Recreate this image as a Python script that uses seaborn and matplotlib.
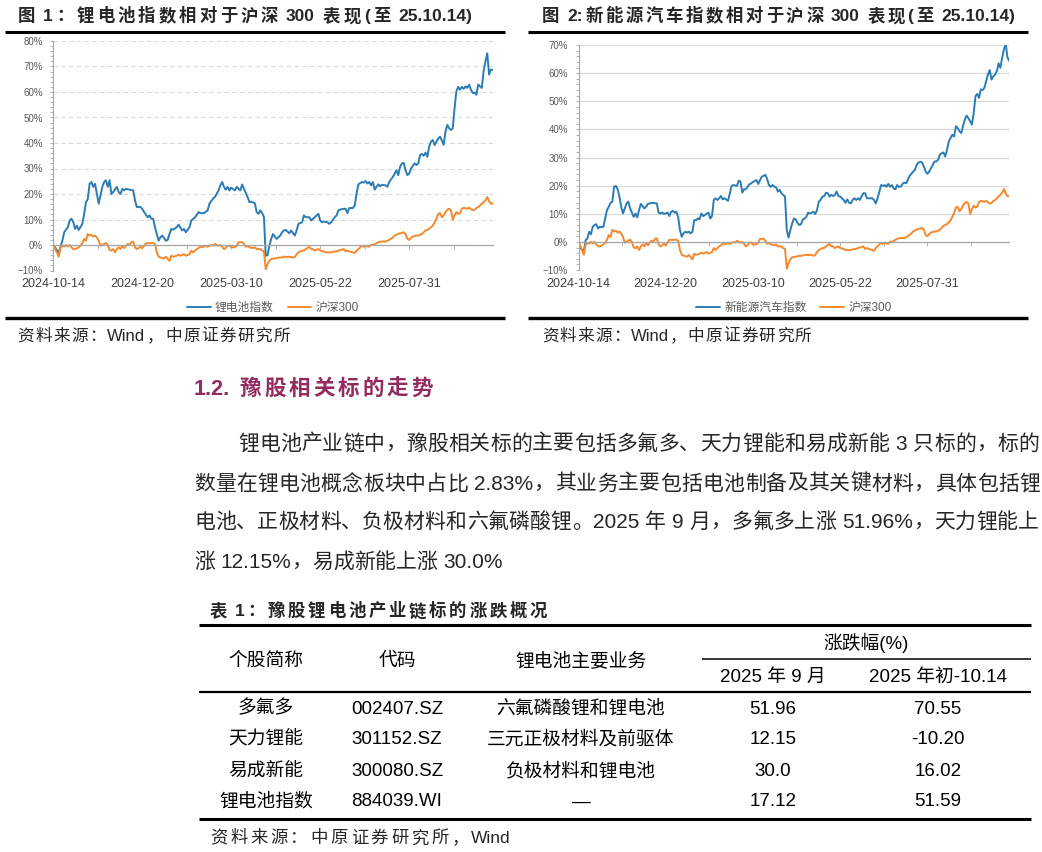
import re
import numpy as np
import matplotlib
matplotlib.use('Agg')
import matplotlib.pyplot as plt
from matplotlib.lines import Line2D
from matplotlib.ticker import MultipleLocator, FuncFormatter
import seaborn as sns

# ---- data (trading-day index since 2024-10-14, relative return in %) ----
date_labels = ['2024-10-14', '2024-12-20', '2025-03-10', '2025-05-22', '2025-07-31']
label_days = [0, 49, 98, 147, 196]

li_day = [0, 2, 3, 5, 6, 8, 9, 10, 11, 12, 13, 14, 16, 17, 18, 19, 20, 21, 22, 23, 24, 25, 27, 28, 29, 30,
          31, 32, 33, 35, 36, 37, 38, 39, 40, 42, 44, 45, 46, 48, 49, 50, 52, 53, 54, 55, 56, 57, 58, 59,
          60, 62, 63, 64, 65, 66, 68, 69, 71, 72, 73, 75, 76, 78, 80, 81, 83, 85, 86, 88, 89, 90, 91, 92,
          93, 94, 95, 96, 97, 98, 100, 101, 103, 104, 105, 107, 108, 109, 111, 112, 113, 114, 115, 116,
          117, 118, 119, 120, 121, 122, 123, 125, 126, 127, 128, 130, 131, 133, 134, 135, 137, 138, 139,
          141, 142, 143, 144, 146, 147, 148, 149, 151, 152, 153, 155, 156, 157, 158, 160, 161, 162, 163,
          165, 166, 167, 168, 170, 171, 172, 173, 174, 175, 176, 177, 178, 179, 180, 181, 183, 184, 185,
          187, 188, 189, 190, 191, 192, 193, 194, 195, 196, 197, 199, 200, 201, 202, 203, 204, 205, 206,
          207, 208, 209, 210, 212, 213, 214, 215, 216, 217, 218, 219, 220, 221, 222, 223, 224, 225, 226,
          227, 228, 229, 230, 231, 232, 233, 234, 235, 236, 237, 238, 239, 240, 241, 242]
li_pct = [0, -2.0, -3.0, 1.7, 5.0, 7.0, 9.6, 10.3, 9.0, 6.3, 7.6, 5.9, 8.3, 12.2, 16.8, 18.0, 24.0, 24.7,
          22.8, 24.0, 20.0, 16.2, 22.8, 24.7, 25.4, 22.8, 25.4, 20.0, 20.8, 22.8, 20.8, 20.0, 22.0, 21.4,
          22.0, 21.7, 21.4, 17.5, 14.9, 14.9, 14.2, 12.9, 10.9, 11.6, 10.3, 10.3, 7.0, 4.3, 1.7, 3.0,
          3.7, 1.7, 2.0, 4.3, 6.3, 6.0, 7.0, 8.0, 5.7, 6.3, 5.0, 7.0, 9.6, 10.8, 12.9, 12.5, 12.5, 13.6,
          16.2, 18.2, 18.8, 20.1, 21.4, 23.4, 24.7, 22.8, 21.7, 22.8, 21.4, 22.5, 21.4, 22.8, 21.4, 23.7,
          22.1, 18.8, 16.8, 17.0, 16.4, 12.9, 12.2, 13.6, 12.5, 11.0, -4.2, -4.0, -0.3, 2.4, 4.3, 3.3,
          2.4, 3.7, 5.0, 5.7, 5.9, 4.6, 5.7, 3.7, 5.7, 8.3, 8.9, 11.6, 10.9, 10.9, 9.6, 10.3, 10.9, 12.2,
          9.6, 8.9, 9.2, 8.9, 8.3, 8.9, 10.9, 11.6, 13.6, 13.9, 14.2, 14.2, 12.5, 14.5, 14.5, 15.5, 20.1,
          23.8, 24.7, 24.5, 25.1, 24.1, 24.7, 23.4, 24.7, 21.7, 22.8, 23.8, 23.0, 23.6, 23.4, 22.8, 24.7,
          26.7, 28.0, 29.3, 27.4, 30.7, 32.0, 32.2, 29.3, 27.4, 28.0, 30.0, 32.0, 31.4, 32.0, 35.3, 35.7,
          35.0, 36.2, 34.6, 38.6, 40.5, 41.2, 39.2, 41.8, 42.5, 41.0, 39.3, 44.5, 47.1, 45.8, 45.1, 45.8,
          53.7, 60.3, 62.0, 60.9, 62.0, 61.2, 62.2, 61.6, 62.9, 60.9, 59.6, 59.8, 58.9, 62.9, 62.2, 61.6,
          68.2, 72.0, 75.2, 66.8, 68.8, 68.6]

hs_day = [0, 1, 2, 3, 4, 5, 6, 7, 8, 9, 10, 11, 12, 14, 15, 16, 17, 18, 19, 20, 21, 22, 23, 24, 25, 26,
          27, 28, 29, 30, 31, 32, 33, 34, 35, 36, 37, 38, 39, 40, 41, 42, 43, 44, 45, 46, 47, 48, 49, 50,
          51, 53, 55, 56, 57, 58, 59, 61, 62, 63, 64, 65, 66, 68, 69, 70, 72, 73, 75, 76, 77, 79, 80, 81,
          82, 84, 85, 87, 88, 89, 91, 92, 93, 94, 95, 96, 97, 98, 100, 101, 102, 104, 105, 106, 107, 108,
          110, 111, 112, 114, 115, 116, 117, 118, 119, 120, 122, 123, 125, 126, 127, 129, 130, 132, 133,
          134, 135, 137, 138, 139, 141, 142, 143, 144, 146, 147, 149, 150, 151, 153, 155, 156, 157, 158,
          160, 161, 162, 163, 165, 166, 167, 168, 170, 171, 172, 174, 175, 176, 178, 179, 180, 182, 183,
          184, 186, 187, 188, 189, 191, 192, 193, 194, 195, 196, 197, 198, 200, 201, 203, 204, 205, 207,
          208, 209, 210, 211, 212, 213, 214, 215, 216, 217, 218, 219, 220, 221, 222, 223, 224, 225, 226,
          228, 229, 231, 232, 233, 234, 235, 236, 237, 238, 239, 240, 241, 242]
hs_pct = [0, -1.6, -2.9, -4.6, -0.9, -0.3, -0.6, 0.0, -0.6, 0.0, -0.9, -1.6, -1.6, -0.9, -0.3, 0.7, 2.4,
          1.7, 4.3, 3.7, 4.0, 3.3, 3.7, 3.0, 1.7, -0.3, 0.0, 0.4, 0.8, 0.0, -2.0, -2.2, -1.6, -2.9, -1.6,
          -0.9, -1.6, -0.3, -1.2, -0.3, 0.4, 0.0, 1.1, 1.3, -0.9, -1.6, -1.2, -0.7, -1.2, -0.3, 0.7, 0.7,
          0.8, 0.4, -2.9, -4.6, -4.9, -5.3, -4.6, -5.5, -6.2, -4.2, -4.6, -4.2, -3.8, -4.2, -3.6, -4.2,
          -3.6, -2.2, -2.9, -1.6, -1.2, -0.7, -0.9, -0.3, -0.7, 0.0, -0.3, 0.4, -0.3, 0.0, -0.7, -1.6,
          -1.2, -0.3, -0.3, -0.9, -0.9, -0.3, 1.1, 1.1, 0.4, -0.7, -0.3, -0.9, -1.2, -0.9, -1.6, -1.6,
          -2.2, -2.5, -9.5, -7.5, -6.2, -5.5, -5.3, -5.1, -4.9, -4.9, -4.6, -4.7, -4.6, -4.9, -4.7, -3.6,
          -2.9, -2.2, -2.2, -1.6, -0.7, -1.6, -1.6, -2.2, -1.6, -2.2, -2.5, -2.9, -2.9, -2.9, -2.5, -2.5,
          -2.2, -2.0, -1.6, -2.5, -2.2, -2.5, -2.9, -3.2, -2.2, -1.6, -0.3, -0.7, -0.3, -0.7, 0.1, 0.0,
          0.7, 1.1, 1.3, 1.4, 1.3, 1.7, 2.4, 3.0, 3.7, 4.1, 4.6, 4.7, 5.0, 4.3, 2.4, 2.0, 2.8, 3.3, 3.7,
          3.7, 4.3, 5.0, 5.7, 6.3, 7.0, 7.6, 8.9, 10.3, 12.2, 12.5, 10.9, 11.6, 12.9, 13.8, 14.2, 13.6,
          9.9, 11.6, 12.9, 12.2, 12.5, 14.2, 14.6, 14.2, 14.6, 13.6, 13.8, 14.5, 14.9, 15.5, 16.2, 16.8,
          17.5, 18.8, 17.2, 16.2, 16.3]

nev_day = [0, 1, 2, 3, 4, 5, 6, 7, 8, 9, 10, 11, 12, 13, 14, 15, 16, 17, 18, 19, 20, 21, 22, 23, 24, 25,
           26, 27, 28, 29, 30, 31, 32, 33, 34, 35, 36, 37, 38, 39, 40, 42, 43, 44, 45, 46, 47, 48, 50, 51,
           52, 53, 54, 55, 56, 57, 58, 59, 60, 61, 62, 63, 64, 65, 66, 67, 68, 69, 70, 71, 72, 73, 74, 75,
           76, 77, 78, 79, 80, 81, 82, 84, 85, 86, 87, 89, 90, 91, 92, 93, 94, 96, 97, 98, 100, 101, 102,
           103, 104, 105, 106, 107, 108, 109, 110, 111, 112, 113, 114, 115, 116, 117, 118, 119, 120, 121,
           122, 123, 124, 125, 126, 127, 128, 129, 130, 131, 132, 133, 134, 135, 136, 137, 138, 139, 140,
           141, 142, 143, 144, 145, 146, 147, 148, 149, 150, 151, 152, 153, 154, 155, 156, 157, 158, 159,
           160, 161, 162, 164, 165, 166, 167, 168, 169, 170, 171, 172, 173, 174, 175, 176, 177, 178, 179,
           180, 181, 182, 183, 184, 185, 186, 187, 188, 189, 190, 191, 192, 193, 194, 195, 196, 197, 198,
           199, 200, 201, 202, 203, 204, 205, 206, 207, 208, 209, 210, 211, 212, 213, 214, 215, 216, 217,
           218, 219, 220, 221, 222, 223, 224, 225, 226, 227, 228, 229, 230, 231, 232, 233, 234, 235, 236,
           237, 238, 239, 240, 241, 242]
nev_pct = [0, -1.8, -3.0, -3.5, 0.6, 1.2, 3.6, 2.7, 5.4, 6.0, 6.3, 4.8, 5.4, 5.2, 5.4, 8.3, 11.3, 12.5,
           13.9, 14.3, 19.6, 19.9, 18.7, 16.1, 12.5, 10.1, 11.9, 13.7, 14.3, 11.9, 10.4, 8.9, 10.1, 8.7,
           11.3, 13.5, 12.7, 11.9, 12.5, 13.5, 13.7, 13.9, 13.7, 13.7, 10.4, 10.1, 10.4, 9.9, 10.4, 9.2,
           10.7, 11.0, 10.4, 10.7, 8.7, 4.2, 1.8, 3.0, 3.6, 3.3, 3.6, 3.0, 3.6, 7.7, 7.7, 8.3, 8.0, 10.1,
           9.2, 9.5, 10.1, 10.4, 8.3, 9.2, 14.9, 15.5, 14.9, 15.5, 16.3, 15.1, 15.5, 14.6, 17.3, 19.9,
           20.2, 19.9, 21.8, 21.4, 17.5, 18.7, 18.7, 20.5, 20.8, 21.3, 22.0, 20.6, 22.0, 23.2, 23.5, 23.8,
           22.3, 20.2, 19.6, 20.2, 19.6, 19.4, 17.9, 18.5, 17.3, 16.7, 16.1, 4.2, 1.5, 4.2, 6.5, 8.3, 8.0,
           6.8, 6.0, 6.3, 8.0, 8.3, 8.9, 10.4, 10.1, 10.4, 10.7, 9.9, 11.3, 14.3, 14.9, 16.1, 16.3, 17.5,
           17.3, 16.1, 16.7, 16.3, 16.7, 17.9, 16.3, 16.1, 15.5, 14.9, 13.9, 15.1, 13.9, 13.7, 14.9, 15.5,
           14.9, 15.5, 14.9, 16.1, 17.3, 17.3, 15.5, 15.5, 15.5, 14.9, 13.7, 15.5, 17.9, 20.2, 19.9, 20.2,
           19.6, 20.6, 19.6, 20.2, 19.0, 18.7, 20.2, 19.6, 19.6, 20.6, 21.1, 20.8, 22.0, 23.5, 24.2, 25.0,
           25.6, 27.4, 28.2, 28.5, 28.2, 26.8, 25.0, 24.2, 25.0, 26.2, 27.4, 28.6, 28.6, 29.2, 31.0, 31.5,
           31.8, 30.4, 32.7, 35.7, 36.9, 38.1, 37.5, 41.1, 40.5, 39.3, 38.7, 41.1, 43.5, 44.9, 44.0, 42.9,
           41.7, 45.8, 51.8, 52.6, 51.2, 54.2, 54.0, 54.8, 57.1, 59.5, 61.1, 57.7, 58.9, 59.5, 60.7, 63.5,
           61.9, 65.5, 68.5, 70.2, 65.5, 64.3]

# table 1
stock_names = ['多氟多', '天力锂能', '易成新能', '锂电池指数']
stock_codes = ['002407.SZ', '301152.SZ', '300080.SZ', '884039.WI']
stock_biz = ['六氟磷酸锂和锂电池', '三元正极材料及前驱体', '负极材料和锂电池', '—']
chg_sep = ['51.96', '12.15', '30.0', '17.12']
chg_ytd = ['70.55', '-10.20', '16.02', '51.59']

para_lines = ['锂电池产业链中，豫股相关标的主要包括多氟多、天力锂能和易成新能 3 只标的，标的',
              '数量在锂电池概念板块中占比 2.83%，其业务主要包括电池制备及其关键材料，具体包括锂',
              '电池、正极材料、负极材料和六氟磷酸锂。2025 年 9 月，多氟多上涨 51.96%，天力锂能上',
              '涨 12.15%，易成新能上涨 30.0%']

# ---- style ----
W, H = 1042, 852
sns.set_theme(style='white')
plt.rcParams['font.family'] = ['Liberation Sans', 'Noto Sans CJK SC']
BLUE = '#2C7CB4'
ORANGE = '#F5892E'
GRAY = '#A6A6A6'
PURPLE = '#932B5E'

fig = plt.figure(figsize=(W / 100, H / 100), dpi=100)
R = fig.canvas.get_renderer()


def fx(x):
    return x / W


def fy(y):
    return 1 - y / H


def rule(x0, x1, y, lw):
    fig.add_artist(Line2D([fx(x0), fx(x1)], [fy(y), fy(y)], color='black', lw=lw,
                          transform=fig.transFigure, solid_capstyle='butt'))


def spread(s, x0, y, size, x1=None, **kw):
    # lay a line of mixed CJK / latin text, optionally justified to x1
    em = size * 100 / 72
    base = y + 0.36 * em
    items, extra = [], 0.0
    for tok in re.findall(r'[!-~]+|\s+|.', s):
        if tok.isspace():
            extra += 0.28 * em
            continue
        asc = tok.isascii()
        t = fig.text(0, fy(base), tok, fontsize=size, va='baseline',
                     ha='left' if asc else 'center', **kw)
        w = t.get_window_extent(R).width if asc else em
        items.append((t, w, extra, asc))
        extra = 0.0
    natural = sum(w + e for _, w, e, _ in items)
    gap = 0.0
    if x1 is not None and len(items) > 1:
        gap = (x1 - x0 - natural) / (len(items) - 1)
    x = x0
    for i, (t, w, e, asc) in enumerate(items):
        x += e + (gap if i else 0)
        t.set_x(fx(x if asc else x + w / 2))
        x += w


def chart(rect, bx, by, bname, ymax, dashed, leg_y):
    ax = fig.add_axes(rect)
    sns.lineplot(x=bx, y=by, ax=ax, color=BLUE, lw=1.4, label=bname)
    sns.lineplot(x=hs_day, y=hs_pct, ax=ax, color=ORANGE, lw=1.4, label='沪深300')
    ax.set_xlim(0, 242)
    ax.set_ylim(-10, ymax)
    ax.set_xlabel('')
    ax.set_ylabel('')
    ax.set_axisbelow(True)
    ax.yaxis.grid(True, color='#D9D9D9', lw=0.8, ls=(0, (4, 3)) if dashed else '-')
    ax.xaxis.grid(False)
    for s in ['top', 'right']:
        ax.spines[s].set_visible(False)
    ax.spines['left'].set_color(GRAY)
    ax.spines['left'].set_linewidth(0.8)
    ax.spines['bottom'].set_position(('data', 0))
    ax.spines['bottom'].set_color(GRAY)
    ax.spines['bottom'].set_linewidth(0.9)
    ax.yaxis.set_major_locator(MultipleLocator(10))
    ax.yaxis.set_minor_locator(MultipleLocator(2))
    ax.yaxis.set_major_formatter(FuncFormatter(lambda v, _: f'{v:.0f}%'.replace('-', '\u2212')))
    ax.tick_params(axis='y', which='both', left=True, length=2.5, width=0.6, color=GRAY,
                   labelsize=7, labelcolor='#595959', pad=5)
    ax.set_xticks(np.arange(0, 242, label_days[1] / 2))
    ax.tick_params(axis='x', bottom=True, length=3, width=0.6, color=GRAY, labelbottom=False)
    sec = ax.secondary_xaxis(0)
    sec.set_xticks(label_days, labels=date_labels)
    sec.tick_params(length=0, pad=5.5, labelsize=9, labelcolor='#404040')
    sec.spines['bottom'].set_visible(False)
    ax.legend(loc='center', bbox_to_anchor=(0.5, leg_y), ncol=2, frameon=False, fontsize=8.5,
              handlelength=2.0, handletextpad=0.35, columnspacing=1.2, labelcolor='#595959')
    return ax


# ---- chart 1 ----
spread('图 1：锂电池指数相对于沪深 300 表现(至 25.10.14)', 18, 15, 12.5, x1=472, weight='bold')
rule(5, 505, 31.7, 2.2)
chart([fx(53.3), fy(270.5), (492.7 - 53.3) / W, (270.5 - 41) / H],
      li_day, li_pct, '锂电池指数', 80, True, -0.163)
rule(5, 505, 318, 2.4)
spread('资料来源：Wind，中原证券研究所', 17, 335, 12, x1=290)

# ---- chart 2 ----
spread('图 2:新能源汽车指数相对于沪深 300 表现(至 25.10.14)', 542, 15, 12.5, x1=1015, weight='bold')
rule(528, 1028, 31.7, 2.2)
chart([fx(578.5), fy(270), (1009.3 - 578.5) / W, (270 - 45) / H],
      nev_day, nev_pct, '新能源汽车指数', 70, False, -0.169)
rule(528, 1028, 318, 2.4)
spread('资料来源：Wind，中原证券研究所', 542, 335, 12, x1=811)

# ---- section text ----
spread('1.2. 豫股相关标的走势', 194, 387, 15.5, x1=433, weight='bold', color=PURPLE)
spread(para_lines[0], 238, 442, 15, x1=1039)
spread(para_lines[1], 194, 482, 15, x1=1040)
spread(para_lines[2], 194, 520, 15, x1=1039)
spread(para_lines[3], 194, 560, 15)

# ---- table ----
spread('表 1：豫股锂电池产业链标的涨跌概况', 210, 610, 12.5, x1=547, weight='bold')
rule(199, 1031, 625, 2.2)
col_x = [266, 397, 581, 773, 938]
row_y = [709, 740, 771, 802]
tkw = dict(fontsize=13.5, ha='center', va='center', color='black')
fig.text(fx(866), fy(643), '涨跌幅(%)', **tkw)
rule(702, 1031, 659, 1.1)
for x, lab in zip(col_x[:3], ['个股简称', '代码', '锂电池主要业务']):
    fig.text(fx(x), fy(661), lab, **tkw)
fig.text(fx(col_x[3]), fy(677), '2025 年 9 月', **tkw)
fig.text(fx(col_x[4]), fy(677), '2025 年初-10.14', **tkw)
rule(199, 1031, 692, 1.6)
for i, y in enumerate(row_y):
    for x, col in zip(col_x, [stock_names, stock_codes, stock_biz, chg_sep, chg_ytd]):
        fig.text(fx(x), fy(y), col[i], **tkw)
rule(199, 1031, 819, 2.2)
spread('资料来源：中原证券研究所，Wind', 210, 837, 12.5, x1=511)

fig.savefig('out.png', dpi=100)
